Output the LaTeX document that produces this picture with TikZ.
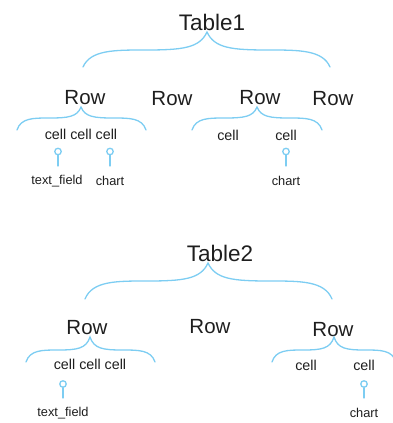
\documentclass[tikz,border=0pt]{standalone}
\usepackage{fontspec}
\setmainfont{Liberation Sans}
\definecolor{lineblue}{RGB}{125,205,242}
\definecolor{txt}{RGB}{30,30,30}
\begin{document}
\begin{tikzpicture}[x=1pt,y=-1pt,
  tablelbl/.style={font=\fontsize{22.5}{24}\selectfont, text=txt, inner sep=0pt},
  rowlbl/.style={font=\fontsize{20.5}{22}\selectfont, text=txt, inner sep=0pt},
  celllbl/.style={font=\fontsize{14.3}{16}\selectfont, text=txt, inner sep=0pt},
  leaflbl/.style={font=\fontsize{12.8}{14}\selectfont, text=txt, inner sep=0pt},
  bline/.style={draw=lineblue, line width=1.3pt, line cap=round},
  pinhead/.style={circle, draw=lineblue, line width=1.3pt, minimum size=6.5pt, inner sep=0pt}
]
\useasboundingbox (0,0) rectangle (393,423);
% brace macro: #1 left x, #2 right x, #3 tip x, #4 end y, #5 mid y, #6 tip y
\newcommand{\mybrace}[6]{%
  \draw[bline] (#1,#4) .. controls ({#1+0.06*(#3-#1)},#5) and ({#1+0.25*(#3-#1)},#5) .. ({#1+0.5*(#3-#1)},#5)
     .. controls ({#1+0.8*(#3-#1)},#5) and ({#3-0.06*(#3-#1)},{#5-0.1*(#5-#6)}) .. (#3,#6)
     .. controls ({#3+0.06*(#2-#3)},{#5-0.1*(#5-#6)}) and ({#3+0.2*(#2-#3)},#5) .. ({#3+0.5*(#2-#3)},#5)
     .. controls ({#3+0.75*(#2-#3)},#5) and ({#2-0.06*(#2-#3)},#5) .. (#2,#4);}

% ---------- Table 1 ----------
\node[tablelbl] (t1) at (212,22) {Table1};
\node[rowlbl] (r11) at (85,98) {Row};
\node[rowlbl] (r12) at (172,99) {Row};
\node[rowlbl] (r13) at (260,98) {Row};
\node[rowlbl] (r14) at (333,99) {Row};
\mybrace{83}{330}{207}{67}{50}{32}

\mybrace{17}{146}{81}{130}{118}{107}
\node[celllbl] (c11) at (81,134) {cell cell cell};
\node[pinhead] (p11) at (58,151.5) {};
\coordinate (q11) at (58,166);
\draw[bline] (p11.south) -- (q11);
\node[leaflbl] (l11) at (57,181) {text\_field};
\node[pinhead] (p12) at (110,151.5) {};
\coordinate (q12) at (110,166);
\draw[bline] (p12.south) -- (q12);
\node[leaflbl] (l12) at (110,181) {chart};

\mybrace{192}{322}{257}{130}{118}{107}
\node[celllbl] (c13a) at (228,135) {cell};
\node[celllbl] (c13b) at (286,135) {cell};
\node[pinhead] (p13) at (286,151.5) {};
\coordinate (q13) at (286,166);
\draw[bline] (p13.south) -- (q13);
\node[leaflbl] (l13) at (286,181) {chart};

% ---------- Table 2 ----------
\node[tablelbl] (t2) at (220,253) {Table2};
\node[rowlbl] (r21) at (87,328) {Row};
\node[rowlbl] (r22) at (210,327) {Row};
\node[rowlbl] (r23) at (333,330) {Row};
\mybrace{85}{332}{208}{299}{281}{263}

\mybrace{26}{155}{90}{362}{350}{337}
\node[celllbl] (c21) at (90,364) {cell cell cell};
\node[pinhead] (p21) at (63,384) {};
\coordinate (q21) at (63,398);
\draw[bline] (p21.south) -- (q21);
\node[leaflbl] (l21) at (63,413) {text\_field};

\mybrace{272}{396}{334}{362}{350}{337}
\node[celllbl] (c23a) at (306,365) {cell};
\node[celllbl] (c23b) at (364,365) {cell};
\node[pinhead] (p23) at (364,384) {};
\coordinate (q23) at (364,398);
\draw[bline] (p23.south) -- (q23);
\node[leaflbl] (l23) at (364,413) {chart};
\end{tikzpicture}
\end{document}
